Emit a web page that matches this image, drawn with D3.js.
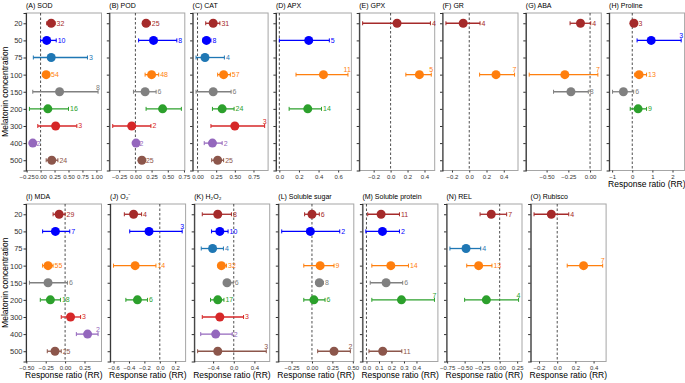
<!DOCTYPE html>
<html>
<head>
<meta charset="utf-8">
<script src="https://cdn.jsdelivr.net/npm/d3@7"></script>
<style>
  body { margin: 0; background: #fff; }
  text { font-family: "Liberation Sans", Arial, sans-serif; }
</style>
</head>
<body>
<svg id="chart" width="685" height="383"></svg>
<script>
// melatonin levels and the colour used for each one
const concentrations = ["20", "50", "75", "100", "150", "200", "300", "400", "500"];
const concColors = ["#a52a2a", "#0000ff", "#1f77b4", "#ff7f0e", "#808080",
                    "#2ca02c", "#d62728", "#9467bd", "#8c564b"];

// rows: [concentration, mean RR, lower CI, upper CI, n]
const sod = [["20", 0.19, 0.11, 0.26, 32], ["50", 0.11, 0.0, 0.28, 10], ["75", 0.19, -0.13, 0.84, 3],
             ["100", 0.10, 0.05, 0.16, 54], ["150", 0.34, -0.14, 1.03, 8], ["200", 0.13, -0.2, 0.5, 16],
             ["300", 0.27, -0.05, 0.65, 3], ["400", -0.14, -0.18, -0.10, 2], ["500", 0.20, 0.10, 0.31, 24]];
const pod = [["20", 0.165, 0.11, 0.23, 25], ["50", 0.28, 0.05, 0.64, 8], ["100", 0.25, 0.15, 0.36, 48],
             ["150", 0.15, -0.03, 0.32, 6], ["200", 0.42, 0.165, 0.71, null], ["300", -0.057, -0.35, 0.24, 2],
             ["400", 0.01, -0.02, 0.04, 2], ["500", 0.10, 0.06, 0.14, 25]];
const cat = [["20", 0.21, 0.11, 0.30, 31], ["50", 0.12, 0.07, 0.18, 8], ["75", 0.10, -0.02, 0.36, 4],
             ["100", 0.35, 0.27, 0.44, 57], ["150", 0.21, -0.02, 0.45, 6], ["200", 0.33, 0.20, 0.49, 24],
             ["300", 0.50, 0.18, 0.90, 3], ["400", 0.20, 0.09, 0.33, 2], ["500", 0.27, 0.19, 0.35, 25]];
const apx = [["50", 0.30, 0.0, 0.51, 5], ["100", 0.45, 0.17, 0.70, 11], ["200", 0.29, 0.10, 0.43, 14]];
const gpx = [["20", 0.076, -0.33, 0.47, 4], ["100", 0.34, 0.18, 0.48, 5]];
const gr = [["20", -0.07, -0.27, 0.125, 4], ["100", 0.31, 0.12, 0.525, 7]];
const aba = [["20", -0.11, -0.23, 0.008, 4], ["100", -0.29, -0.70, 0.09, 7], ["150", -0.22, -0.42, -0.02, 8]];
const proline = [["20", 0.08, -0.05, 0.23, 3], ["50", 0.94, 0.24, 2.43, 3], ["100", 0.34, 0.12, 0.71, 13],
                 ["150", -0.44, -0.98, 0.07, 6], ["200", 0.29, -0.10, 0.71, 9]];
const mda = [["20", -0.077, -0.155, 0.0, 29], ["50", -0.125, -0.29, 0.06, 7], ["100", -0.22, -0.29, -0.155, 55],
             ["150", -0.22, -0.46, 0.03, 6], ["200", -0.19, -0.32, -0.06, 18], ["300", 0.07, -0.05, 0.20, 3],
             ["400", 0.29, 0.145, 0.425, 2], ["500", -0.13, -0.23, -0.05, 25]];
const superoxide = [["20", -0.34, -0.46, -0.236, 4], ["50", -0.14, -0.39, 0.29, 3],
                    ["100", -0.32, -0.60, -0.05, 14], ["200", -0.29, -0.44, -0.16, 6]];
const h2o2 = [["20", -0.31, -0.61, -0.045, 8], ["50", -0.27, -0.43, -0.11, 10], ["75", -0.41, -0.63, -0.20, 4],
              ["100", -0.24, -0.30, -0.14, 32], ["150", -0.13, -0.20, -0.01, 6], ["200", -0.31, -0.45, -0.19, 17],
              ["300", -0.27, -0.61, 0.19, 3], ["400", -0.35, -0.64, -0.03, 2], ["500", -0.31, -0.70, 0.63, 3]];
const sugar = [["20", 0.0, -0.09, 0.09, 6], ["50", -0.02, -0.37, 0.34, 2], ["100", 0.10, -0.10, 0.27, 9],
               ["150", 0.09, 0.05, 0.14, 8], ["200", 0.024, -0.10, 0.16, 6], ["500", 0.27, 0.07, 0.47, 2]];
const protein = [["20", 0.117, 0.01, 0.264, 11], ["50", 0.128, -0.005, 0.264, 2], ["100", 0.195, 0.043, 0.336, 14],
                 ["150", 0.157, 0.03, 0.29, 6], ["200", 0.28, 0.043, 0.544, 7], ["500", 0.13, 0.02, 0.283, 11]];
const rel = [["20", -0.12, -0.28, 0.10, 7], ["75", -0.48, -0.71, -0.27, 4], ["100", -0.30, -0.47, -0.11, 13],
             ["200", -0.19, -0.50, 0.27, 4]];
const rubisco = [["20", -0.065, -0.255, 0.127, 4], ["100", 0.29, 0.11, 0.50, 7]];

const panels = [
  {title: "(A) SOD", rows: sod, ticks: [-0.25, 0, 0.25, 0.5, 0.75, 1], fmt: ".2f"},
  {title: "(B) POD", rows: pod, ticks: [-0.25, 0, 0.25, 0.5, 0.75], fmt: ".2f"},
  {title: "(C) CAT", rows: cat, ticks: [0, 0.25, 0.5, 0.75], fmt: ".2f"},
  {title: "(D) APX", rows: apx, ticks: [0, 0.2, 0.4, 0.6], fmt: ".1f"},
  {title: "(E) GPX", rows: gpx, ticks: [-0.2, 0, 0.2, 0.4], fmt: ".1f"},
  {title: "(F) GR", rows: gr, ticks: [-0.2, 0, 0.2, 0.4], fmt: ".1f"},
  {title: "(G) ABA", rows: aba, ticks: [-0.5, -0.25, 0], fmt: ".2f"},
  {title: "(H) Proline", rows: proline, ticks: [-1, 0, 1, 2], fmt: "d"},
  {title: "(I) MDA", rows: mda, ticks: [-0.5, -0.25, 0, 0.25], fmt: ".2f"},
  {title: "(J) O\u2082\u207B", rows: superoxide, ticks: [-0.6, -0.4, -0.2, 0, 0.2], fmt: ".1f"},
  {title: "(K) H\u2082O\u2082", rows: h2o2, ticks: [-0.4, 0, 0.4], fmt: ".1f"},
  {title: "(L) Soluble sugar", rows: sugar, ticks: [-0.25, 0, 0.25, 0.5], fmt: ".2f"},
  {title: "(M) Soluble protein", rows: protein, ticks: [0, 0.1, 0.2, 0.3, 0.4], fmt: ".1f"},
  {title: "(N) REL", rows: rel, ticks: [-0.75, -0.5, -0.25, 0, 0.25], fmt: ".2f"},
  {title: "(O) Rubisco", rows: rubisco, ticks: [-0.2, 0, 0.2, 0.4], fmt: ".1f"}
];

const svg = d3.select("#chart");
const color = d3.scaleOrdinal().domain(concentrations).range(concColors);

const pw = 75.5, ph = 157.5;
// top row has 8 panels, bottom row 7 (a bit wider spacing)
const rowsLayout = [{top: 13, step: 83.3, first: 0, count: 8, xTitle: [7]},
                    {top: 204, step: 84.1, first: 8, count: 7, xTitle: [0,1,2,3,4,5,6]}];

rowsLayout.forEach(r => {
  for (let i = 0; i < r.count; i++) {
    let p = panels[r.first + i];
    let left = 26 + i * r.step;
    drawPanel(p, left, r.top, i == 0, r.xTitle.includes(i));
  }
  // y axis title for the row
  svg.append("text")
    .attr("transform", `translate(8,${r.top + ph / 2}) rotate(-90)`)
    .attr("text-anchor", "middle")
    .attr("font-size", 8.5)
    .text("Melatonin concentration");
});

function drawPanel(p, left, top, showY, showXTitle) {
  let lo = d3.min(p.rows, d => d[2]), hi = d3.max(p.rows, d => d[3]);
  let pad = (hi - lo) * 0.05;
  let x = d3.scaleLinear().domain([lo - pad, hi + pad]).range([0, pw]);
  let y = d3.scalePoint().domain(concentrations).range([0, ph]).padding(0.6);

  let g = svg.append("g").attr("transform", `translate(${left},${top})`);

  g.append("text")
    .attr("x", 0).attr("y", -5)
    .attr("font-size", 7)
    .text(p.title);

  g.append("rect")
    .attr("width", pw).attr("height", ph)
    .attr("fill", "none").attr("stroke", "#a6a6a6").attr("stroke-width", 1);

  // y axis
  let yAxis = g.append("g")
    .call(d3.axisLeft(y).tickSize(2.5).tickFormat(showY ? d => d : ""));
  yAxis.select(".domain").attr("stroke", "#333").attr("stroke-width", 1.1);
  yAxis.selectAll(".tick line").attr("stroke", "#333");
  yAxis.selectAll(".tick text").attr("font-size", 7.5).attr("fill", "#333").attr("x", -3.5);

  // x axis
  let xAxis = g.append("g")
    .attr("transform", `translate(0,${ph})`)
    .call(d3.axisBottom(x).tickValues(p.ticks).tickSize(2).tickFormat(d3.format(p.fmt)));
  xAxis.select(".domain").remove();
  xAxis.selectAll(".tick line").attr("stroke", "#333");
  xAxis.selectAll(".tick text").attr("font-size", 6).attr("fill", "#333").attr("y", 4);

  if (showXTitle) {
    g.append("text")
      .attr("x", pw / 2).attr("y", ph + 16)
      .attr("text-anchor", "middle")
      .attr("font-size", 8.5)
      .text("Response ratio (RR)");
  }

  // reference line at zero
  g.append("line")
    .attr("x1", x(0)).attr("x2", x(0))
    .attr("y1", 0).attr("y2", ph)
    .attr("stroke", "#222").attr("stroke-width", 0.8)
    .attr("stroke-dasharray", "2.5,2");

  let rows = g.selectAll(".row")
    .data(p.rows)
    .join("g")
    .attr("class", "row")
    .attr("transform", d => `translate(0,${y(d[0])})`)
    .attr("stroke", d => color(d[0]))
    .attr("fill", d => color(d[0]));

  rows.append("line")
    .attr("x1", d => x(d[2])).attr("x2", d => x(d[3]))
    .attr("stroke-width", 1.3);
  rows.append("line")
    .attr("x1", d => x(d[2])).attr("x2", d => x(d[2]))
    .attr("y1", -2).attr("y2", 2).attr("stroke-width", 1);
  rows.append("line")
    .attr("x1", d => x(d[3])).attr("x2", d => x(d[3]))
    .attr("y1", -2).attr("y2", 2).attr("stroke-width", 1);
  rows.append("circle")
    .attr("cx", d => x(d[1]))
    .attr("r", 4.5)
    .attr("stroke", "none");

  // study counts: to the right of the bar, or above it when there is no room
  rows.filter(d => d[4] != null).append("text")
    .attr("stroke", "none")
    .attr("font-size", 7)
    .text(d => d[4])
    .each(function(d) {
      let t = d3.select(this);
      let tw = this.getComputedTextLength();
      let xe = x(d[3]);
      if (xe + 1.5 + tw > pw + 1.5) {
        let cx = Math.min(xe, pw - tw / 2 - 0.5);
        t.attr("x", cx).attr("y", -2.2).attr("text-anchor", "middle");
      } else {
        t.attr("x", xe + 1.5).attr("y", 2.5);
      }
    });
}
</script>
</body>
</html>
